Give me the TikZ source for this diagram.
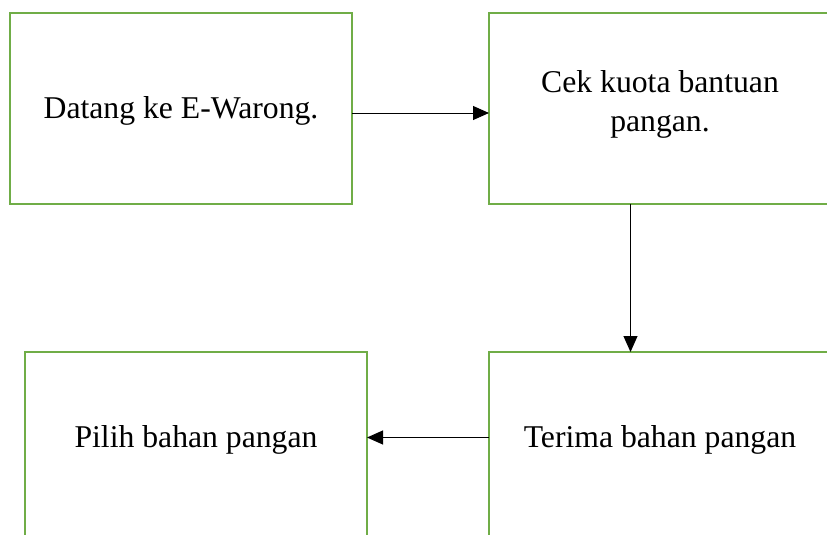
\documentclass[tikz,border=0pt]{standalone}
\usepackage{fontspec}
\setmainfont{Liberation Serif}
\usepackage{tikz}
\usetikzlibrary{positioning, arrows.meta}
\definecolor{boxgreen}{HTML}{70AD47}

\begin{document}
\begin{tikzpicture}[x=1pt, y=-1pt,
  stagebox/.style={draw=boxgreen, line width=2.5pt, fill=white, outer sep=0pt, minimum width=342pt, minimum height=191pt, align=center, font=\fontsize{31.7pt}{39pt}\selectfont},
  lowbox/.style={stagebox, text height=22pt, text depth=23pt},
  arr/.style={-{Triangle[length=16pt, width=14pt]}, line width=1pt, draw=black}]
  \clip (0,0) rectangle (827,535);
  \node[stagebox, text height=22pt, text depth=3pt] (dt) at (181,108.5) {Datang ke E-Warong.};
  \node[stagebox, right=137pt of dt, text depth=15pt] (ck) {Cek kuota bantuan\\ pangan.};
  \node[lowbox, below=148pt of ck] (tr) {Terima bahan pangan};
  \node[lowbox, left=122pt of tr] (pl) {Pilih bahan pangan};
  \draw[arr] ([yshift=-4.5pt]dt.east) -- ([yshift=-4.5pt]dt.east -| ck.west);
  \draw[arr] ([xshift=-29.5pt]ck.south) -- ([xshift=-29.5pt]ck.south |- tr.north);
  \draw[arr] ([yshift=10pt]tr.west) -- ([yshift=10pt]tr.west -| pl.east);
\end{tikzpicture}
\end{document}
